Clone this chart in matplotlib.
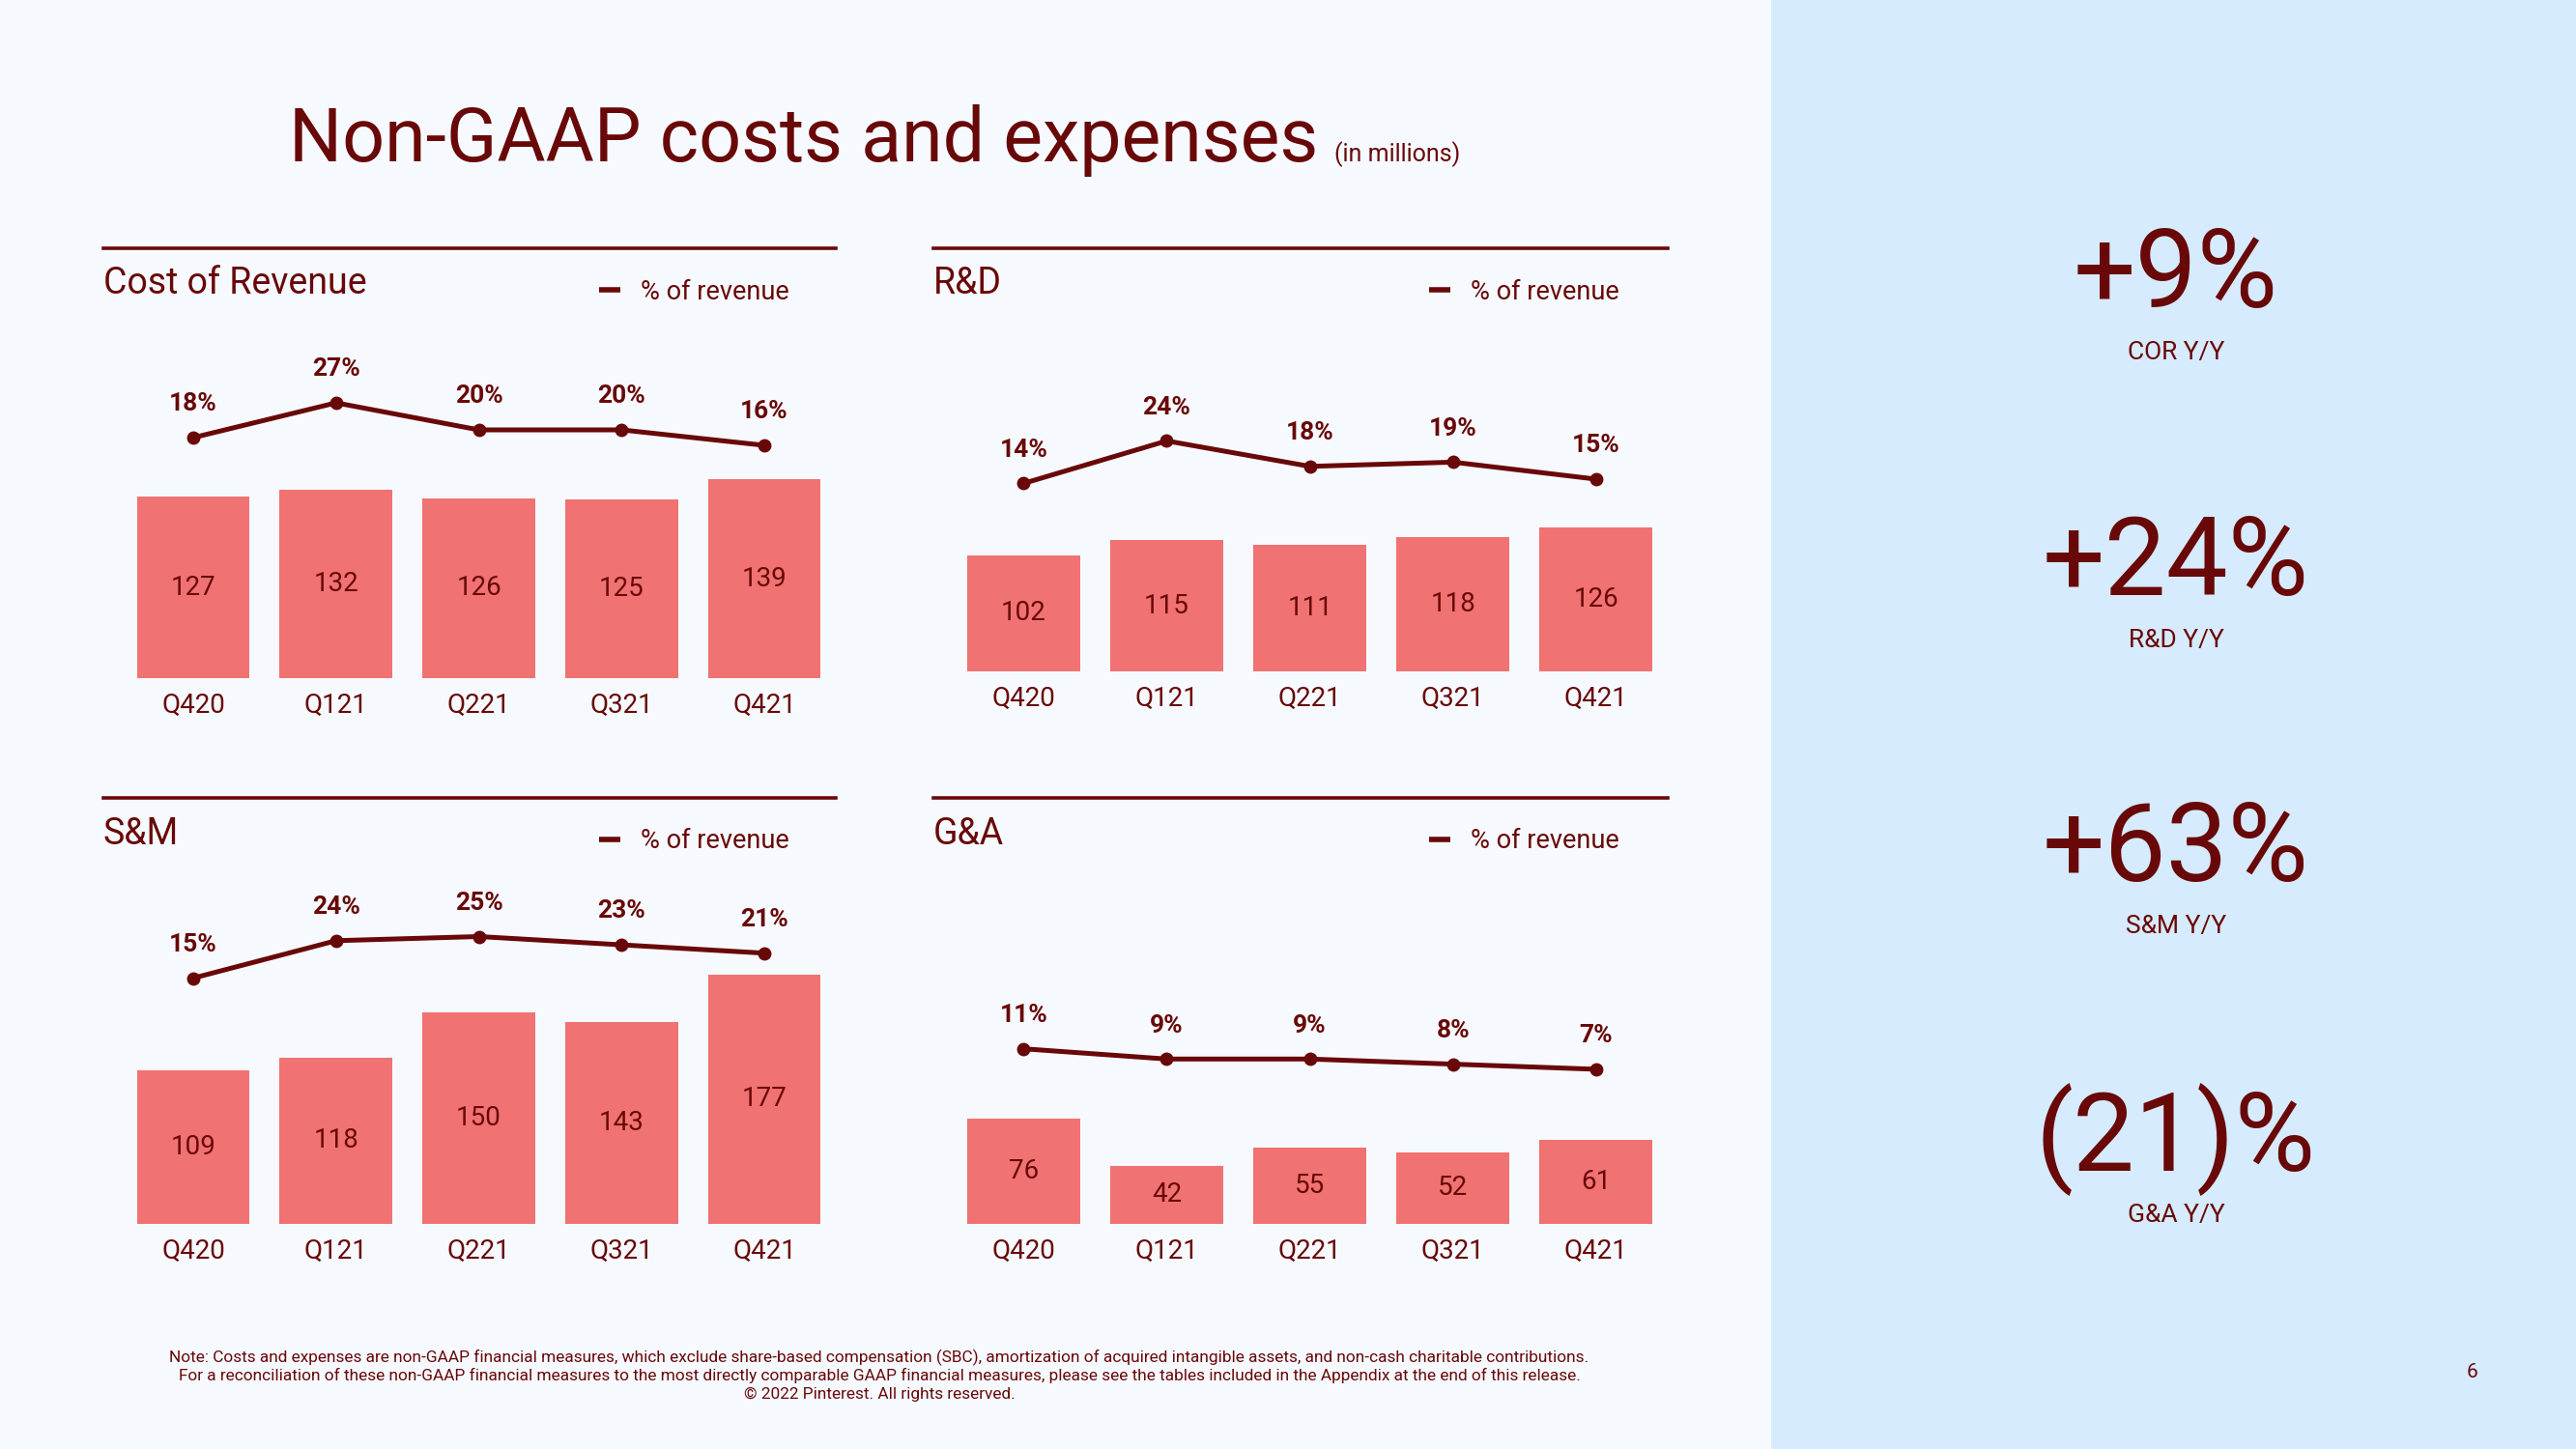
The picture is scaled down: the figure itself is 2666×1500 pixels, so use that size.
import matplotlib
matplotlib.use("Agg")
import matplotlib.pyplot as plt
from matplotlib.patches import Rectangle
from matplotlib.lines import Line2D

# ---------------- data ----------------
quarters = ["Q420", "Q121", "Q221", "Q321", "Q421"]
cor_values = [127, 132, 126, 125, 139]
cor_pct = [18, 27, 20, 20, 16]
rd_values = [102, 115, 111, 118, 126]
rd_pct = [14, 24, 18, 19, 15]
sm_values = [109, 118, 150, 143, 177]
sm_pct = [15, 24, 25, 23, 21]
ga_values = [76, 42, 55, 52, 61]
ga_pct = [11, 9, 9, 8, 7]
panel_titles = ["Cost of Revenue", "R&D", "S&M", "G&A"]
yoy_values = ["+9%", "+24%", "+63%", "(21)%"]
yoy_labels = ["COR Y/Y", "R&D Y/Y", "S&M Y/Y", "G&A Y/Y"]
legend_label = "% of revenue"
title = "Non-GAAP costs and expenses"
subtitle = "(in millions)"
note_lines = [
    "Note: Costs and expenses are non-GAAP financial measures, which exclude share-based compensation (SBC), amortization of acquired intangible assets, and non-cash charitable contributions.",
    "For a reconciliation of these non-GAAP financial measures to the most directly comparable GAAP financial measures, please see the tables included in the Appendix at the end of this release.",
    "\u00a9 2022 Pinterest. All rights reserved.",
]
page_number = "6"

# ---------------- style ----------------
W, H = 2666, 1500
DARK = "#690808"
BAR = "#f07272"
BG = "#f6faff"
SIDE = "#d6ebfd"
FONT = ["Roboto", "DejaVu Sans"]
plt.rcParams["font.family"] = FONT

fig = plt.figure(figsize=(W / 100, H / 100), dpi=100)
fig.patch.set_facecolor(BG)


def fx(x):
    return x / W


def fy(y):
    return 1 - y / H


# right side panel
fig.patches.append(Rectangle((fx(1833), 0), 1 - fx(1833), 1, transform=fig.transFigure,
                             facecolor=SIDE, edgecolor="none", zorder=0))

# title
t = fig.text(fx(299), fy(167), title, fontsize=55.5, color=DARK, ha="left", va="baseline")
renderer = fig.canvas.get_renderer()
bb = t.get_window_extent(renderer=renderer)
fig.text(bb.x1 / W + fx(17), fy(167), subtitle, fontsize=18, color=DARK, ha="left", va="baseline")

# panels: x0, x1, header line y, bar bottom y, px per unit (bars), line zero y, px per % (line)
layout = [
    (107, 865, 257, 702, 1.48, 525, 4.0),
    (966, 1726, 257, 695, 1.18, 562, 4.4),
    (107, 865, 826, 1267, 1.46, 1077, 4.3),
    (966, 1726, 826, 1267, 1.43, 1144, 5.3),
]
values_list = [cor_values, rd_values, sm_values, ga_values]
pct_list = [cor_pct, rd_pct, sm_pct, ga_pct]

for i in range(4):
    x0, x1, hy, yb, sb, lbase, sl = layout[i]
    top = hy + 60
    ax = fig.add_axes([fx(x0), fy(yb), fx(x1) - fx(x0), (yb - top) / H])
    ax.set_facecolor("none")
    xs = list(range(len(quarters)))
    ax.bar(xs, values_list[i], width=0.79, color=BAR, zorder=2)
    ax.set_xlim(-0.63, 4.5)
    ax.set_ylim(0, (yb - top) / sb)
    for s in ax.spines.values():
        s.set_visible(False)
    ax.set_yticks([])
    ax.set_xticks(xs)
    ax.set_xticklabels(quarters, fontsize=20, color=DARK)
    ax.tick_params(axis="x", length=0, pad=11)
    for x, v in zip(xs, values_list[i]):
        ax.text(x, v / 2, str(v), ha="center", va="center", fontsize=20, color=DARK, zorder=3)

    ax2 = ax.twinx()
    ax2.set_ylim((lbase - yb) / sl, (lbase - top) / sl)
    ax2.set_xlim(-0.63, 4.5)
    for s in ax2.spines.values():
        s.set_visible(False)
    ax2.set_yticks([])
    ax2.plot(xs, pct_list[i], color=DARK, lw=3.6, marker="o", markersize=9, zorder=4, clip_on=False)
    for x, p in zip(xs, pct_list[i]):
        ax2.annotate(f"{p}%", (x, p), xytext=(0, 25), textcoords="offset points",
                     ha="center", va="center", fontsize=19, fontweight="bold", color=DARK,
                     annotation_clip=False)

    # header line, title and legend
    fig.add_artist(Line2D([fx(x0), fx(x1)], [fy(hy), fy(hy)], transform=fig.transFigure,
                          color=DARK, lw=2.6))
    fig.text(fx(x0), fy(hy + 37), panel_titles[i], fontsize=27, color=DARK, ha="left", va="center")
    fig.add_artist(Line2D([fx(x0 + 513), fx(x0 + 535)], [fy(hy + 43), fy(hy + 43)],
                          transform=fig.transFigure, color=DARK, lw=4, solid_capstyle="butt"))
    fig.text(fx(x0 + 556), fy(hy + 45), legend_label, fontsize=19.5, color=DARK, ha="left", va="center")

# right side Y/Y figures
centers = [287, 585, 881, 1180]
for c, v, lab in zip(centers, yoy_values, yoy_labels):
    fig.text(fx(2252), fy(c), v, fontsize=82, color=DARK, ha="center", va="center")
    fig.text(fx(2252), fy(c + 78), lab, fontsize=19, color=DARK, ha="center", va="center")

# footnote
for k, line in enumerate(note_lines):
    fig.text(fx(910), fy(1405 + 19 * k), line, fontsize=12.4, color=DARK, ha="center", va="center")

fig.text(fx(2558), fy(1421), page_number, fontsize=15, color=DARK, ha="center", va="center")

fig.savefig("out.png", dpi=100, facecolor=BG)
